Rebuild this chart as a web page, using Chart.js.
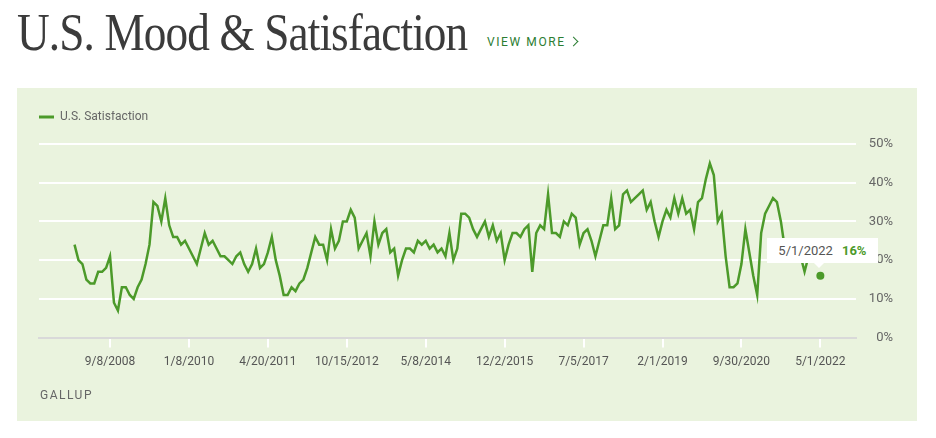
<!DOCTYPE html>
<html>
<head>
<meta charset="utf-8">
<script src="https://cdn.jsdelivr.net/npm/chart.js@4.4.1/dist/chart.umd.min.js"></script>
<style>
body{margin:0;width:936px;height:438px;background:#fff;position:relative;overflow:hidden;font-family:Roboto,sans-serif}
#title{position:absolute;left:17px;top:8px;margin:0;font-family:'Liberation Serif',serif;font-weight:normal;font-size:52px;line-height:50px;letter-spacing:-1px;color:#3b3b3b;transform:scaleX(0.87);transform-origin:left top;white-space:nowrap}
#more{position:absolute;left:487px;top:35px;font-size:12px;letter-spacing:1.6px;color:#2b7d32;white-space:nowrap}
#more i{display:inline-block;width:6px;height:6px;border-top:1.5px solid #2b7d32;border-right:1.5px solid #2b7d32;transform:rotate(45deg);margin-left:4px;position:relative;top:-1px}
#panel{position:absolute;left:17px;top:88px;width:900px;height:333px;background:#eaf3de}
#c{position:absolute;left:0;top:0}
#src{position:absolute;left:23px;top:300px;font-size:12px;letter-spacing:1.5px;color:#666}
#tip{position:absolute;height:25px;line-height:25px;padding:0 12px 0 11px;background:#fff;font-size:13px;color:#555;white-space:nowrap}
#tip .v{color:#4c9a2a;font-weight:bold;margin-left:9px}
#tip:after{content:'';position:absolute;left:47px;bottom:-5px;border-left:5px solid transparent;border-right:5px solid transparent;border-top:5px solid #fff}
</style>
</head>
<body>
<h1 id="title">U.S. Mood &amp; Satisfaction</h1>
<div id="more">VIEW MORE<i></i></div>
<div id="panel">
  <canvas id="c" width="900" height="333"></canvas>
  <div id="src">GALLUP</div>
  <div id="tip"></div>
</div>
<script>
const seriesName = "U.S. Satisfaction";
const tickLabels = ["9/8/2008", "1/8/2010", "4/20/2011", "10/15/2012", "5/8/2014",
                    "12/2/2015", "7/5/2017", "2/1/2019", "9/30/2020", "5/1/2022"];
const firstTickIndex = 9;
const tickStep = 20;
const yTicks = [0, 10, 20, 30, 40, 50];
// percent satisfied, one value per poll (null = no line drawn)
const satisfaction = [
  24, 20, 19, 15, 14, 14, 17, 17, 18, 21,
  9, 7, 13, 13, 11, 10, 13, 15, 19, 24,
  35, 34, 30, 36, 29, 26, 26, 24, 25, 23,
  21, 19, 23, 27, 24, 25, 23, 21, 21, 20,
  19, 21, 22, 19, 17, 19, 23, 18, 19, 22,
  26, 20, 16, 11, 11, 13, 12, 14, 15, 18,
  22, 26, 24, 24, 20, 28, 23, 25, 30, 30,
  33, 31, 23, 25, 27, 21, 30, 24, 27, 28,
  22, 23, 16, 20, 23, 23, 22, 25, 24, 25,
  23, 24, 22, 23, 21, 27, 20, 23, 32, 32,
  31, 28, 26, 28, 30, 26, 29, 25, 27, 20,
  24, 27, 27, 26, 28, 29, 17, 27, 29, 28,
  37, 27, 27, 26, 30, 29, 32, 31, 24, 27,
  28, 25, 21, 25, 29, 29, 36, 28, 29, 37,
  38, 35, 36, 37, 38, 33, 35, 30, 26, 30,
  33, 31, 36, 32, 36, 32, 33, 28, 35, 36,
  41, 45, 42, 30, 32, 21, 13, 13, 14, 19,
  28, 22, 16, 11, 27, 32, 34, 36, 35, 30,
  23, 21, 22, 21, 21, 17, 21, null, null, 16
];
const hoverIndex = satisfaction.length - 1;

const green = '#4c9a2a';
const font = 'Roboto';

const chart = new Chart(document.getElementById('c'), {
  type: 'line',
  data: {
    datasets: [{
      label: seriesName,
      data: satisfaction.map((v, i) => ({x: i, y: v})),
      borderColor: green,
      backgroundColor: green,
      borderWidth: 2.5,
      tension: 0,
      spanGaps: false,
      pointRadius: ctx => ctx.dataIndex === hoverIndex ? 4 : 0,
      pointBackgroundColor: green,
      pointBorderWidth: 0
    }]
  },
  options: {
    responsive: false,
    animation: false,
    layout: {padding: {left: 22, right: 24, top: 23, bottom: 45}},
    plugins: {
      legend: {
        position: 'top',
        align: 'start',
        labels: {
          boxWidth: 15, boxHeight: 3, padding: 0, color: '#666',
          font: {family: font, size: 12},
          generateLabels: c => Chart.defaults.plugins.legend.labels.generateLabels(c)
            .map(it => Object.assign(it, {lineWidth: 0}))
        }
      },
      tooltip: {enabled: false}
    },
    scales: {
      x: {
        type: 'linear',
        min: -9,
        max: 198,
        afterBuildTicks: s => { s.ticks = tickLabels.map((_, k) => ({value: firstTickIndex + k * tickStep})); },
        ticks: {
          autoSkip: false, maxRotation: 0, padding: 7, color: '#555',
          font: {family: font, size: 12},
          callback: v => tickLabels[(v - firstTickIndex) / tickStep]
        },
        grid: {drawOnChartArea: false, drawTicks: true, tickLength: 10, color: '#fff', lineWidth: 2},
        border: {color: '#d9d9d9', width: 2}
      },
      y: {
        position: 'right',
        min: 0,
        max: 50,
        afterBuildTicks: s => { s.ticks = yTicks.map(v => ({value: v})); },
        ticks: {
          crossAlign: 'far', padding: 6.5, color: '#666',
          font: {family: font, size: 13},
          callback: v => v + '%'
        },
        grid: {
          color: c => (c.tick && c.tick.value === 0) ? '#d9d9d9' : '#fff',
          lineWidth: 2, drawTicks: false
        },
        border: {display: false}
      }
    }
  },
  plugins: [{
    id: 'legendGap',
    afterInit(chart) {
      const fit = chart.legend.fit;
      chart.legend.fit = function () { fit.call(this); this.height += 11; };
    }
  }]
});

// hover label on the last poll
const px = chart.scales.x.getPixelForValue(hoverIndex);
const py = chart.scales.y.getPixelForValue(satisfaction[hoverIndex]);
const tip = document.getElementById('tip');
tip.innerHTML = '<span>' + tickLabels[(hoverIndex - firstTickIndex) / tickStep] + '</span>' +
  '<span class="v">' + satisfaction[hoverIndex] + '%</span>';
tip.style.left = (px - 53) + 'px';
tip.style.top = (py - 38) + 'px';
</script>
</body>
</html>
